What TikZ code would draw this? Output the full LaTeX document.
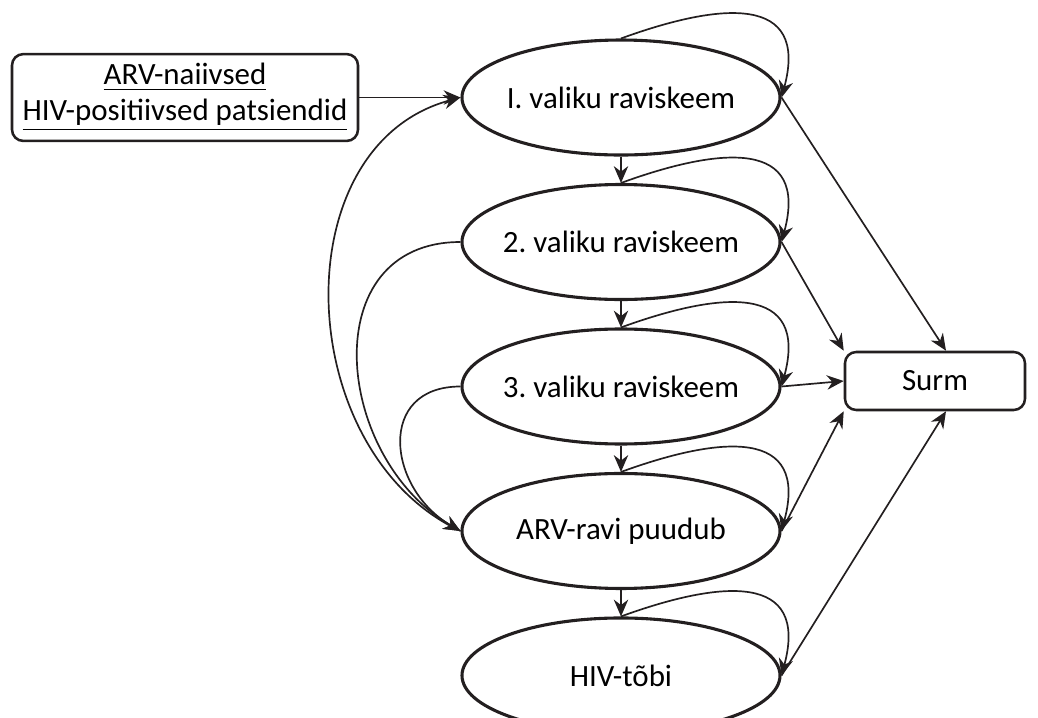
\documentclass[tikz,border=0pt]{standalone}
\usepackage{fontspec}
\setmainfont{Carlito}
\usetikzlibrary{arrows.meta,positioning,shapes.geometric}
\definecolor{ink}{HTML}{231F20}
\frenchspacing
\tikzset{
  regimen/.style={ellipse, draw=ink, line width=1.1pt, minimum width=3.975cm, minimum height=1.4375cm, inner xsep=-2mm, inner ysep=0pt, font=\fontsize{11}{12.5}\selectfont},
  startbox/.style={draw=ink, line width=0.9pt, rounded corners=4pt, align=center, minimum width=4.325cm, minimum height=1.0625cm, font=\fontsize{11}{12.8}\selectfont},
  endbox/.style={draw=ink, line width=0.9pt, rounded corners=4pt, align=center, minimum width=2.25cm, minimum height=0.725cm, font=\fontsize{11}{12.5}\selectfont},
  arrow/.style={-{Stealth[length=2.1mm,width=1.8mm]}, line width=0.6pt, draw=ink},
  selfloop/.style={arrow, out=20, in=75, looseness=1.6}
}
\begin{document}
\begin{tikzpicture}[node distance=3.3mm and 3mm]
\useasboundingbox (0,0) rectangle (12.975,8.975);
\node[regimen] (r1) at (7.7625,7.756) {I. valiku raviskeem};
\node[regimen, below=of r1] (r2) {2. valiku raviskeem};
\node[regimen, below=of r2] (r3) {3. valiku raviskeem};
\node[regimen, below=of r3] (none) {ARV-ravi puudub};
\node[regimen, below=of none] (aids) {HIV-tõbi};
\node[startbox] (naive) at (2.3125,7.756) {\underline{ARV-naiivsed}\\\underline{HIV-positiivsed patsiendid}};
\node[endbox] (death) at (11.6875,4.2125) {Surm};
% edasi liikumine
\draw[arrow] (naive) -- (r1);
\foreach \u/\v in {r1/r2,r2/r3,r3/none,none/aids} {\draw[arrow] (\u) -- (\v);}
\foreach \n in {r1,r2,r3,none,aids} {\draw[selfloop] (\n.north) to (\n.east);}
% tagasi vasakul
\draw[arrow] (none.west) to[out=155, in=195, looseness=1.1] (r1.west);
\draw[arrow] (r2.west) to[out=180, in=150, looseness=1.3] (none.west);
\draw[arrow] (r3.west) to[out=180, in=150, looseness=1.5] (none.west);
% surm
\draw[arrow] (r1.east) -- (death.70);
\draw[arrow] (r2.east) -- (death.north west);
\draw[arrow] (r3.east) -- (death.west);
\draw[arrow] (none.east) -- (death.south west);
\draw[arrow] (aids.east) -- (death.290);
\end{tikzpicture}
\end{document}
